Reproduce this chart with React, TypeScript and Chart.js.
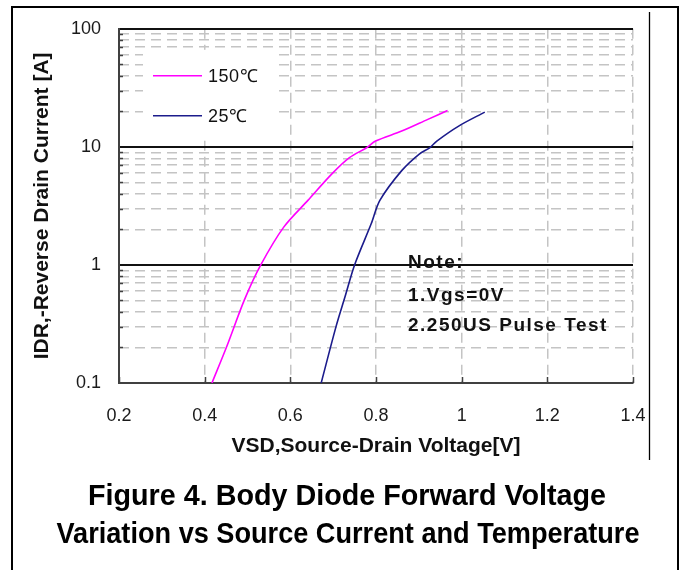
import React, { useEffect, useRef } from 'react';
import { Chart, registerables } from 'chart.js';

Chart.register(...registerables);

// ---- data ----
const vsd150 = [0.417, 0.452, 0.493, 0.531, 0.585, 0.641, 0.697, 0.738, 0.779, 0.799, 0.86, 0.921, 0.967];
const idr150 = [0.1, 0.206, 0.508, 1, 2.1, 3.52, 5.9, 8.1, 9.87, 11.2, 13.6, 17.1, 20.3];
const vsd25 = [0.672, 0.707, 0.728, 0.75, 0.789, 0.809, 0.86, 0.901, 0.926, 0.942, 0.993, 1.054];
const idr25 = [0.1, 0.303, 0.542, 1, 2.24, 3.52, 6.29, 8.69, 9.87, 11.2, 15, 19.7];

const seriesLabels = ['150℃', '25℃'];
const seriesColors = ['#ff00ff', '#1c1c8c'];

const xTickValues = [0.2, 0.4, 0.6, 0.8, 1, 1.2, 1.4];
const xTickLabels = ['0.2', '0.4', '0.6', '0.8', '1', '1.2', '1.4'];
const yTickValues = [0.1, 1, 10, 100];
const yTickLabels = ['0.1', '1', '10', '100'];
const yMinorValues = [0.2, 0.3, 0.4, 0.5, 0.6, 0.7, 0.8, 0.9, 2, 3, 4, 5, 6, 7, 8, 9, 20, 30, 40, 50, 60, 70, 80, 90];

const xTitle = 'VSD,Source-Drain Voltage[V]';
const yTitle = 'IDR,-Reverse Drain Current [A]';
const noteLines = ['Note:', '1.Vgs=0V', '2.250US Pulse Test'];
const captionLines = ['Figure 4. Body Diode Forward Voltage', 'Variation vs Source Current and Temperature'];

const FONT = '"Liberation Sans", Arial, sans-serif';

const decorPlugin = {
  id: 'decor',
  beforeDatasetsDraw(chart: any) {
    const { ctx, chartArea, scales } = chart;
    const xs = scales.x;
    const ys = scales.y;
    ctx.save();
    // inner tick marks
    ctx.strokeStyle = '#404040';
    ctx.lineWidth = 1.5;
    ctx.beginPath();
    yMinorValues.forEach((v) => {
      const py = Math.round(ys.getPixelForValue(v)) + 0.5;
      ctx.moveTo(chartArea.left, py);
      ctx.lineTo(chartArea.left + 4, py);
    });
    xTickValues.forEach((v) => {
      const px = Math.round(xs.getPixelForValue(v)) + 0.5;
      ctx.moveTo(px, chartArea.bottom);
      ctx.lineTo(px, chartArea.bottom - 6);
    });
    ctx.stroke();

    // legend box
    const lx = chartArea.left + 24;
    const ly = chartArea.top + 21;
    ctx.fillStyle = '#ffffff';
    ctx.fillRect(lx, ly, 135, 86);
    const rows = [chartArea.top + 47, chartArea.top + 87];
    ctx.font = `18px ${FONT}`;
    ctx.textBaseline = 'middle';
    ctx.textAlign = 'left';
    rows.forEach((ry, i) => {
      ctx.strokeStyle = seriesColors[i];
      ctx.lineWidth = 1.6;
      ctx.beginPath();
      ctx.moveTo(chartArea.left + 34, ry);
      ctx.lineTo(chartArea.left + 83, ry);
      ctx.stroke();
      ctx.fillStyle = '#111111';
      (ctx as any).letterSpacing = '0.5px';
      ctx.fillText(seriesLabels[i], chartArea.left + 89, ry + 1);
      (ctx as any).letterSpacing = '0px';
    });
    ctx.restore();
  },
  afterDatasetsDraw(chart: any) {
    const { ctx } = chart;
    ctx.save();
    // note
    ctx.fillStyle = '#111111';
    ctx.font = `bold 19px ${FONT}`;
    (ctx as any).letterSpacing = '1.5px';
    ctx.textBaseline = 'middle';
    ctx.textAlign = 'left';
    const noteY = [263, 296, 326];
    noteLines.forEach((t, i) => ctx.fillText(t, 408, noteY[i]));
    (ctx as any).letterSpacing = '0px';

    // caption
    ctx.font = `bold 30px ${FONT}`;
    ctx.textAlign = 'center';
    ctx.textBaseline = 'alphabetic';
    ctx.fillStyle = '#000000';
    ctx.fillText(captionLines[0], 347, 505, 518);
    ctx.fillText(captionLines[1], 348, 543, 583);

    // frame lines
    ctx.strokeStyle = '#000000';
    ctx.lineWidth = 2;
    ctx.strokeRect(12, 7, 666, 575);
    ctx.lineWidth = 1.3;
    ctx.beginPath();
    ctx.moveTo(649.5, 12);
    ctx.lineTo(649.5, 460);
    ctx.stroke();
    ctx.restore();
  },
};

export default function App() {
  const ref = useRef<HTMLCanvasElement | null>(null);

  useEffect(() => {
    document.body.style.margin = '0';
    const canvas = ref.current;
    if (!canvas) return;

    const chart = new Chart(canvas, {
      type: 'line',
      data: {
        datasets: [
          {
            label: seriesLabels[0],
            data: vsd150.map((v, i) => ({ x: v, y: idr150[i] })),
            borderColor: seriesColors[0],
            borderWidth: 1.6,
            pointRadius: 0,
            tension: 0.3,
            fill: false,
          },
          {
            label: seriesLabels[1],
            data: vsd25.map((v, i) => ({ x: v, y: idr25[i] })),
            borderColor: seriesColors[1],
            borderWidth: 1.6,
            pointRadius: 0,
            tension: 0.3,
            fill: false,
          },
        ],
      },
      options: {
        responsive: false,
        animation: false,
        events: [],
        layout: { padding: { left: 0, top: 25, right: 52, bottom: 107 } },
        plugins: {
          legend: { display: false },
          tooltip: { enabled: false },
          title: { display: false },
        },
        scales: {
          x: {
            type: 'linear',
            position: 'bottom',
            min: 0.2,
            max: 1.4,
            afterBuildTicks: (s: any) => {
              s.ticks = xTickValues.map((v) => ({ value: v }));
            },
            afterFit: (s: any) => {
              s.height = 80;
            },
            ticks: {
              autoSkip: false,
              maxRotation: 0,
              padding: 22,
              color: '#1a1a1a',
              font: { family: FONT, size: 18 },
              callback: (_v: any, i: number) => xTickLabels[i],
            },
            grid: { color: '#c4c4c4', lineWidth: 1.5, drawTicks: false, z: -2 },
            border: { display: true, color: '#404040', width: 2, dash: [10, 6] },
            title: {
              display: true,
              text: xTitle,
              color: '#111111',
              font: { family: FONT, size: 21, weight: 'bold' },
              padding: { top: 0, bottom: 4 },
            },
          },
          y: {
            type: 'logarithmic',
            position: 'left',
            min: 0.1,
            max: 100,
            afterBuildTicks: (s: any) => {
              s.ticks = yTickValues.map((v) => ({ value: v }));
            },
            afterFit: (s: any) => {
              s.width = 119;
            },
            ticks: {
              autoSkip: false,
              padding: 18,
              color: '#1a1a1a',
              font: { family: FONT, size: 18 },
              callback: (_v: any, i: number) => yTickLabels[i],
            },
            grid: { color: '#111111', lineWidth: 2, drawTicks: false, z: -1 },
            border: { display: true, color: '#404040', width: 2 },
            title: {
              display: true,
              text: yTitle,
              color: '#111111',
              font: { family: FONT, size: 21, weight: 'bold' },
              padding: { top: 30, bottom: 0 },
            },
          },
          y2: {
            type: 'logarithmic',
            position: 'right',
            min: 0.1,
            max: 100,
            afterBuildTicks: (s: any) => {
              s.ticks = yMinorValues.map((v) => ({ value: v }));
            },
            afterFit: (s: any) => {
              s.width = 0;
            },
            ticks: { display: false },
            grid: { color: '#c4c4c4', lineWidth: 1.5, drawTicks: false, z: -2 },
            border: { display: false, dash: [10, 6] },
          },
        },
      } as any,
      plugins: [decorPlugin],
    });

    return () => chart.destroy();
  }, []);

  return (
    <canvas
      ref={ref}
      width={685}
      height={570}
      style={{ display: 'block', width: 685, height: 570 }}
    />
  );
}
